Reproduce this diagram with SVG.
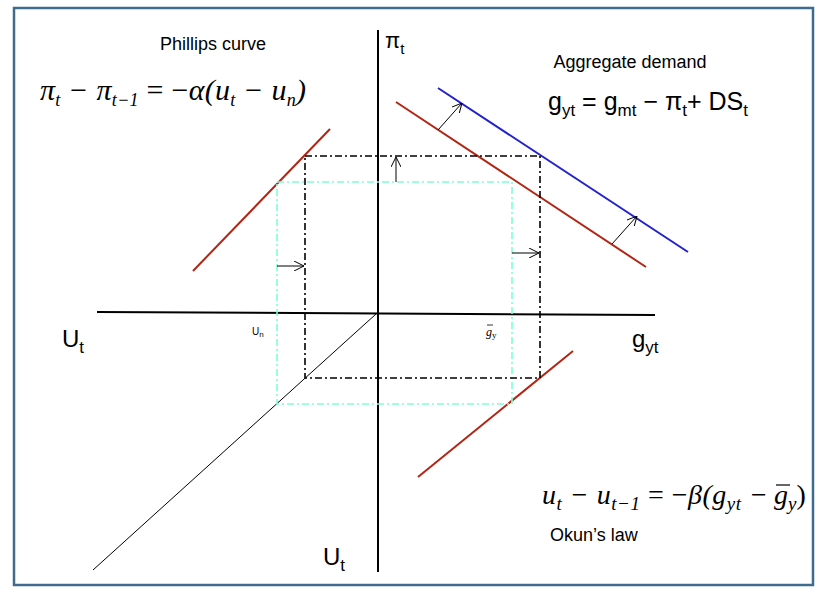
<svg xmlns="http://www.w3.org/2000/svg" width="832" height="598" viewBox="0 0 832 598">
<style>
.s{font-family:"Liberation Sans",Arial,sans-serif;fill:#000}
.m{font-family:"Liberation Serif","Times New Roman",serif;font-style:italic;fill:#000}
.ax{stroke:#000;stroke-width:2;fill:none}
.red{stroke:#B22514;stroke-width:2;fill:none}
.blk{stroke:#000;stroke-width:1.6;stroke-dasharray:7 3 2 3;fill:none}
.cy{stroke:#7FFFD4;stroke-width:1.6;stroke-dasharray:7 3 2 3;fill:none}
.ar{stroke:#000;stroke-width:1;fill:none;marker-end:url(#a)}
</style>
<defs><marker id="a" viewBox="0 0 10 10" refX="10" refY="5" markerWidth="10" markerHeight="10" orient="auto" markerUnits="userSpaceOnUse"><path d="M0,0 L10,5 L0,10" fill="none" stroke="#000" stroke-width="1"/></marker></defs>
<rect x="14" y="8" width="799" height="577" fill="#fff" stroke="#3F6C8E" stroke-width="2.5"/>
<g id="axes">
<line class="ax" x1="378" y1="30" x2="378" y2="572"/>
<line class="ax" x1="97" y1="312" x2="655" y2="315"/>
<line stroke="#000" stroke-width="1" x1="376" y1="314" x2="93" y2="570"/>
</g>
<g id="curves">
<line class="red" x1="193" y1="271" x2="330" y2="129"/>
<line class="red" x1="396" y1="102" x2="646" y2="267"/>
<line stroke="#2222CC" stroke-width="2" x1="438" y1="88" x2="688" y2="252"/>
<line class="red" x1="418" y1="477" x2="573" y2="351"/>
</g>
<g id="boxes">
<rect class="cy" x="277" y="182" width="235" height="222"/>
<rect class="blk" x="305" y="156" width="235" height="222"/>
</g>
<g id="connectors">
<line class="ar" x1="396" y1="182" x2="396" y2="157"/>
<line class="ar" x1="277" y1="266" x2="304" y2="266"/>
<line class="ar" x1="512" y1="253" x2="539" y2="253"/>
<line class="ar" x1="438" y1="130" x2="462" y2="103"/>
<line class="ar" x1="612" y1="244" x2="637" y2="216"/>
</g>
<g id="labels">
<text class="s" x="213" y="50" font-size="18" text-anchor="middle">Phillips curve</text>
<text class="m" x="40" y="100" font-size="30" textLength="266" lengthAdjust="spacing">π<tspan font-size="18" dy="6">t</tspan><tspan dy="-6"> − π</tspan><tspan font-size="18" dy="6">t−1</tspan><tspan dy="-6" font-style="normal"> = −</tspan>α(u<tspan font-size="18" dy="6">t</tspan><tspan dy="-6"> − u</tspan><tspan font-size="18" dy="6">n</tspan><tspan dy="-6">)</tspan></text>
<text class="s" x="385" y="48" font-size="22">π<tspan font-size="15" dy="6">t</tspan></text>
<text class="s" x="630" y="68" font-size="18" text-anchor="middle">Aggregate demand</text>
<text class="s" x="548" y="110" font-size="25">g<tspan font-size="17" dy="6">yt</tspan><tspan dy="-6"> = g</tspan><tspan font-size="17" dy="6">mt</tspan><tspan dy="-6"> − π</tspan><tspan font-size="17" dy="6">t</tspan><tspan dy="-6">+ DS</tspan><tspan font-size="17" dy="6">t</tspan></text>
<text class="s" x="62" y="347" font-size="24">U<tspan font-size="17" dy="6">t</tspan></text>
<text class="s" x="252" y="335" font-size="10">U<tspan font-size="8" dy="2">n</tspan></text>
<text class="m" x="486" y="336" font-size="12">g<tspan font-size="9" dy="2" font-style="normal">y</tspan></text>
<line x1="487" y1="325" x2="493" y2="325" stroke="#000" stroke-width="0.8"/>
<text class="s" x="632" y="347" font-size="24">g<tspan font-size="17" dy="6">yt</tspan></text>
<text class="m" x="542" y="504" font-size="28" textLength="226" lengthAdjust="spacing">u<tspan font-size="19" dy="6">t</tspan><tspan dy="-6"> − u</tspan><tspan font-size="19" dy="6">t−1</tspan><tspan dy="-6" font-style="normal"> = −</tspan>β(g<tspan font-size="19" dy="6">yt</tspan><tspan dy="-6"> −</tspan></text>
<text class="m" x="774" y="504" font-size="28">g<tspan font-size="19" dy="6">y</tspan><tspan dy="-6" font-style="normal">)</tspan></text>
<line x1="776" y1="485" x2="790" y2="485" stroke="#000" stroke-width="1.2"/>
<text class="s" x="550" y="541" font-size="18">Okun’s law</text>
<text class="s" x="323" y="565" font-size="24">U<tspan font-size="17" dy="6">t</tspan></text>
</g>
</svg>
